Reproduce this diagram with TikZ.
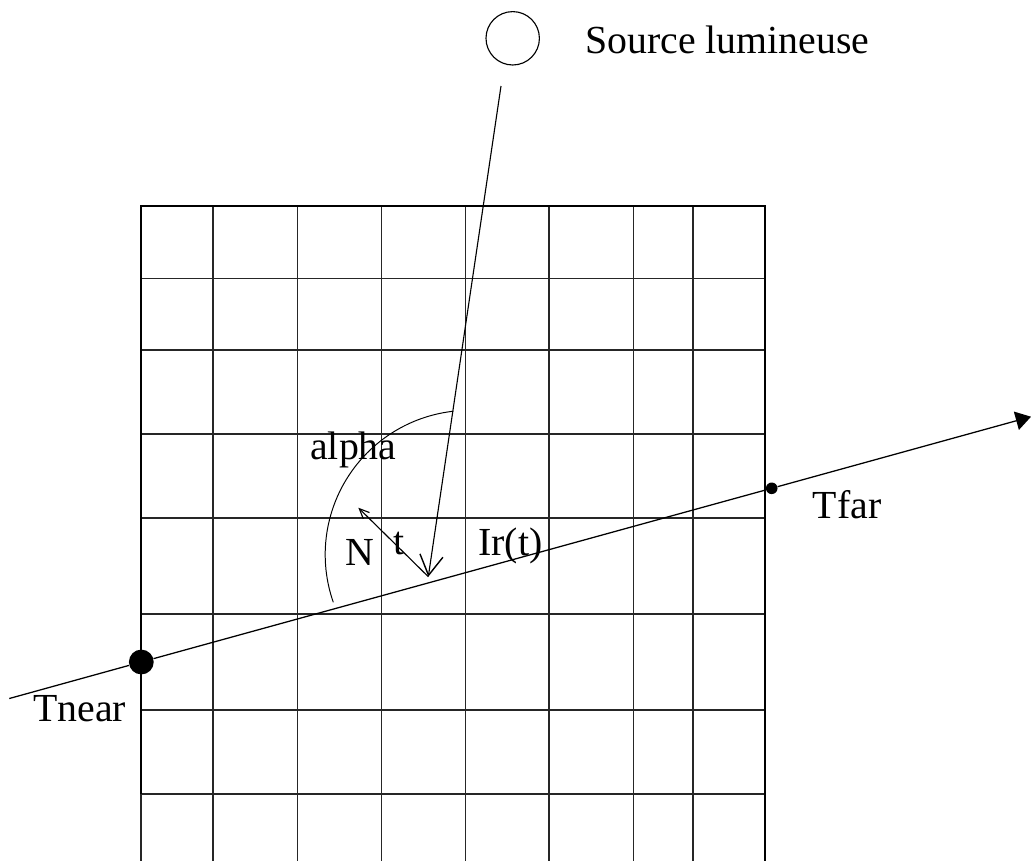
\documentclass[tikz,border=0pt]{standalone}
\usepackage{fontspec}
\setmainfont{Liberation Serif}
\usetikzlibrary{arrows.meta}

\begin{document}
\begin{tikzpicture}[x=0.025cm, y=-0.025cm,
	every node/.style={font=\fontsize{28.3}{34}\selectfont, inner sep=0pt},
	gridline/.style={line width=0.8pt, black!85},
	border/.style={line width=1.4pt},
	lbl/.style={anchor=base west},
	dot/.style={circle, fill=black, inner sep=0pt}]
	\useasboundingbox (0,0) rectangle (1032,861);
	% grid
	\foreach \x in {213,297.5,381.5,465.5,549,633.5,693}
		\draw[gridline] (\x,206) -- (\x,861);
	\foreach \y in {278.7,350,434,518,614,710,794}
		\draw[gridline] (141,\y) -- (765,\y);
	\draw[border] (141,794) -- (141,206) -- (765,206) -- (765,861);
	\draw[gridline] (141,794) -- (141,861);
	% light source
	\node[draw, circle, minimum size=1.335cm, line width=0.8pt] (source) at (512.7,38.3) {};
	\node[lbl] (sourcelbl) at (585,53) {Source lumineuse};
	% ray through the volume
	\node[dot, minimum size=0.62cm] (tnear) at (141.3,662) {};
	\node[dot, minimum size=0.29cm] (tfar) at (771.7,488.3) {};
	\coordinate (raystart) at (9.3,698.5);
	\coordinate (rayend) at (1031,416.7);
	\draw[line width=0.9pt] (raystart) -- (tnear);
	\draw[line width=0.9pt] (tnear) -- (tfar);
	\draw[line width=0.9pt, -{Triangle[length=0.38cm, width=0.47cm]}] (tfar) -- (rayend);
	% light direction and normal
	\coordinate (lightstart) at (501,86);
	\coordinate (hit) at (428.3,576.7);
	\coordinate (nend) at (358.3,507.7);
	\draw[line width=0.8pt, -{Straight Barb[length=0.5cm, width=0.58cm, line width=1pt]}] (lightstart) -- (hit);
	\draw[line width=0.8pt, -{Straight Barb[length=0.25cm, width=0.22cm]}] (hit) -- (nend);
	% angle
	\coordinate (arcstart) at (333.3,602.3);
	\draw[line width=0.7pt] (arcstart) arc[start angle=160.7, end angle=263.6, radius=144.3];
	% labels
	\node[lbl] (alphalbl) at (310,459) {alpha};
	\node[lbl] (nlbl) at (345,565.7) {N};
	\node[lbl] (tlbl) at (393,554) {t};
	\node[lbl] (irlbl) at (478,555) {Ir(t)};
	\node[lbl] (tfarlbl) at (812.7,518) {Tfar};
	\node[lbl] (tnearlbl) at (33,721.7) {Tnear};
\end{tikzpicture}
\end{document}
